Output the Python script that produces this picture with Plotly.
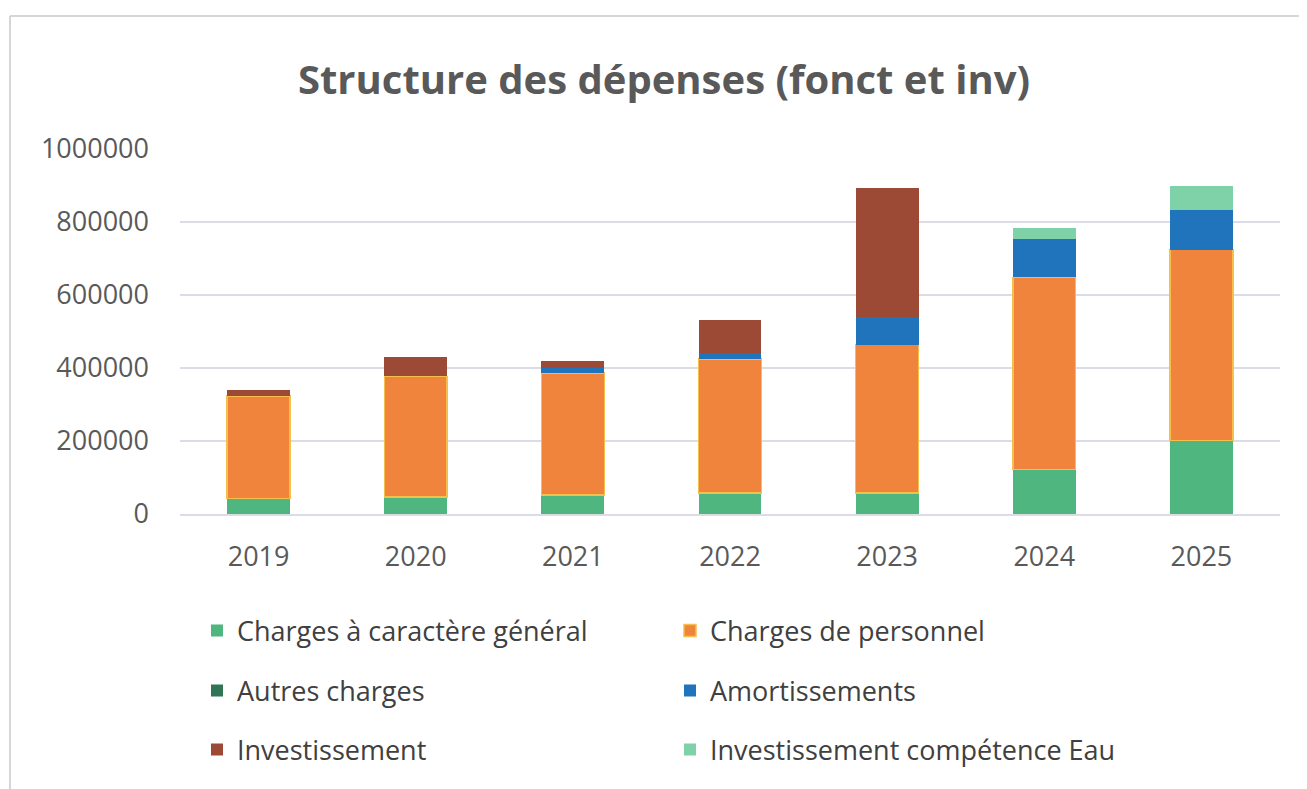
import plotly.graph_objects as go

# Data
years = ["2019", "2020", "2021", "2022", "2023", "2024", "2025"]
charges_generales = [42000, 47000, 52000, 58000, 58000, 122000, 202000]
charges_personnel = [281000, 330000, 334000, 367000, 406000, 526000, 522000]
autres_charges = [0, 0, 0, 0, 0, 0, 0]
amortissements = [0, 0, 14000, 16000, 75000, 105000, 110000]
investissement = [16000, 52000, 18000, 91000, 355000, 0, 0]
invest_eau = [0, 0, 0, 0, 0, 30000, 66000]
y_ticks = [0, 200000, 400000, 600000, 800000, 1000000]

COLORS = {
    "gen": "#4FB67F",
    "pers": "#F0843C",
    "autres": "#2F7556",
    "amort": "#1F74BC",
    "inv": "#9C4A36",
    "eau": "#7FD1A8",
}

series = [
    ("Charges à caractère général", charges_generales, COLORS["gen"], "legend"),
    ("Charges de personnel", charges_personnel, COLORS["pers"], "legend"),
    ("Autres charges", autres_charges, COLORS["autres"], "legend2"),
    ("Amortissements", amortissements, COLORS["amort"], "legend2"),
    ("Investissement", investissement, COLORS["inv"], "legend3"),
    ("Investissement compétence Eau", invest_eau, COLORS["eau"], "legend3"),
]

fig = go.Figure()
for name, vals, col, leg in series:
    line = dict(color="#F6BE4A", width=1.5) if name == "Charges de personnel" else dict(width=0)
    fig.add_trace(go.Bar(x=years, y=vals, name=name, marker_color=col,
                         marker_line=line, legend=leg))

# the page body has an 8px margin, so target pixels are shifted by OFF
OFF = 8
W, H = 1307 - OFF, 789 - OFF
L, T = 180 - OFF, 149 - OFF
R = W - (1280 - OFF)
B = H - (514 - OFF)
pw, ph = W - L - R, H - T - B


def py(pix):
    return (H - B - (pix - OFF)) / ph


def px_(pix):
    return ((pix - OFF) - L) / pw


leg_font = dict(family="Open Sans, sans-serif", size=27, color="#404040")
leg_common = dict(orientation="h", x=px_(197), xanchor="left", yanchor="middle",
                  entrywidth=428, entrywidthmode="pixels", font=leg_font,
                  traceorder="normal", bgcolor="rgba(0,0,0,0)")

fig.update_layout(
    width=W, height=H,
    barmode="stack", bargap=0.6,
    paper_bgcolor="white", plot_bgcolor="white",
    margin=dict(l=L, r=R, t=T, b=B),
    title=dict(text="<b>Structure des dépenses (fonct et inv)</b>",
               x=(664 - OFF) / W, xanchor="center", y=1 - (80 - OFF) / H, yanchor="middle",
               font=dict(family="Open Sans, sans-serif", size=40, color="#595959")),
    font=dict(family="Open Sans, sans-serif", color="#595959"),
    legend=dict(y=py(631), **leg_common),
    legend2=dict(y=py(691), **leg_common),
    legend3=dict(y=py(750), **leg_common),
    showlegend=True,
)
fig.update_yaxes(range=[0, 1000000], tickvals=y_ticks, tickformat="d",
                 gridcolor="#DCDCE6", gridwidth=1.5, zeroline=False,
                 showline=False, ticks="", ticklabelstandoff=30,
                 tickfont=dict(size=27, color="#595959"))
fig.update_xaxes(showline=True, linecolor="#DCDCE6", linewidth=1.5, ticks="",
                 ticklabelstandoff=18, tickfont=dict(size=27, color="#595959"))

# faint frame of the chart (left and top edges)
fig.add_shape(type="line", xref="paper", yref="paper", x0=px_(10), x1=px_(10),
              y0=py(16), y1=py(789), line=dict(color="#D6D6D6", width=2))
fig.add_shape(type="line", xref="paper", yref="paper", x0=px_(10), x1=px_(1307),
              y0=py(16), y1=py(16), line=dict(color="#D6D6D6", width=2))

fig.write_html("out.html")
